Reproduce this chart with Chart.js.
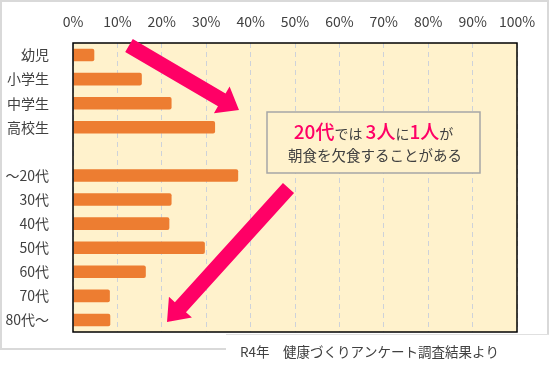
<!DOCTYPE html>
<html>
<head>
<meta charset="utf-8">
<script src="https://cdn.jsdelivr.net/npm/chart.js@4"></script>
<style>
  html, body { margin: 0; padding: 0; background: #ffffff; }
  canvas { display: block; }
</style>
</head>
<body>
<canvas id="breakfast" width="549" height="372"></canvas>
<script>
// Categories (blank row separates children from adults)
const categories = ['幼児', '小学生', '中学生', '高校生', '', '～20代', '30代', '40代', '50代', '60代', '70代', '80代～'];
// Share who skip breakfast (%)
const skipRates = [4.8, 15.5, 22.2, 32.0, null, 37.2, 22.2, 21.7, 29.7, 16.4, 8.3, 8.4];
const xTickValues = [0, 10, 20, 30, 40, 50, 60, 70, 80, 90, 100];

const FONT = "'Noto Sans CJK JP', 'Noto Sans', sans-serif";
const PINK = '#FF0066';
const TEXT = '#404040';

// Draw a thick block arrow from tail centre to tip
function drawArrow(ctx, x1, y1, x2, y2, shaft, headW, headL) {
    const dx = x2 - x1, dy = y2 - y1;
    const len = Math.sqrt(dx * dx + dy * dy);
    const ux = dx / len, uy = dy / len;
    const px = -uy, py = ux;
    const bx = x2 - ux * headL, by = y2 - uy * headL;
    ctx.beginPath();
    ctx.moveTo(x1 + px * shaft / 2, y1 + py * shaft / 2);
    ctx.lineTo(bx + px * shaft / 2, by + py * shaft / 2);
    ctx.lineTo(bx + px * headW / 2, by + py * headW / 2);
    ctx.lineTo(x2, y2);
    ctx.lineTo(bx - px * headW / 2, by - py * headW / 2);
    ctx.lineTo(bx - px * shaft / 2, by - py * shaft / 2);
    ctx.lineTo(x1 - px * shaft / 2, y1 - py * shaft / 2);
    ctx.closePath();
    ctx.fillStyle = PINK;
    ctx.fill();
}

const decorations = {
    id: 'decorations',
    beforeDraw(chart) {
        const ctx = chart.ctx;
        const a = chart.chartArea;
        ctx.save();
        ctx.fillStyle = '#ffffff';
        ctx.fillRect(0, 0, chart.width, chart.height);
        // outer frame
        ctx.strokeStyle = '#D9D9D9';
        ctx.lineWidth = 2;
        ctx.strokeRect(1, 1, chart.width - 2, 348);
        // plot background
        ctx.fillStyle = '#FFF2CC';
        ctx.fillRect(a.left, a.top, a.right - a.left, a.bottom - a.top);
        ctx.restore();
    },
    afterDatasetsDraw(chart) {
        const ctx = chart.ctx;
        const a = chart.chartArea;
        ctx.save();
        // plot border
        ctx.strokeStyle = '#000000';
        ctx.lineWidth = 1.5;
        ctx.strokeRect(a.left, a.top, a.right - a.left, a.bottom - a.top);

        // caption box covering lower right of frame
        ctx.fillStyle = '#ffffff';
        ctx.fillRect(226, 334, chart.width - 226, chart.height - 334);
        ctx.strokeStyle = '#E0E0E0';
        ctx.lineWidth = 1;
        ctx.beginPath();
        ctx.moveTo(226, 334.5);
        ctx.lineTo(chart.width, 334.5);
        ctx.stroke();
        ctx.fillStyle = TEXT;
        ctx.font = '13.5px ' + FONT;
        ctx.textBaseline = 'middle';
        ctx.textAlign = 'left';
        ctx.fillText('R4年　健康づくりアンケート調査結果より', 240, 352);

        // arrows
        drawArrow(ctx, 129, 45.5, 239, 110, 15, 31, 20);
        drawArrow(ctx, 288.5, 188, 167, 322, 15, 31, 20);

        // annotation box
        ctx.fillStyle = '#FFF2CC';
        ctx.fillRect(267, 112, 213, 61);
        ctx.strokeStyle = '#A6A6A6';
        ctx.lineWidth = 1.5;
        ctx.strokeRect(267, 112, 213, 61);

        const parts = [
            ['20代', PINK, '500 19px '],
            ['では ', TEXT, '14px '],
            ['3人', PINK, '500 19px '],
            ['に', TEXT, '14px '],
            ['1人', PINK, '500 19px '],
            ['が', TEXT, '14px ']
        ];
        let total = 0;
        parts.forEach(p => { ctx.font = p[2] + FONT; total += ctx.measureText(p[0]).width; });
        let x = 373.5 - total / 2;
        ctx.textBaseline = 'alphabetic';
        parts.forEach(p => {
            ctx.font = p[2] + FONT;
            ctx.fillStyle = p[1];
            ctx.fillText(p[0], x, 139);
            x += ctx.measureText(p[0]).width;
        });
        ctx.font = '14.5px ' + FONT;
        ctx.fillStyle = TEXT;
        ctx.textAlign = 'center';
        ctx.textBaseline = 'middle';
        ctx.fillText('朝食を欠食することがある', 375, 155);
        ctx.restore();
    }
};

new Chart(document.getElementById('breakfast'), {
    type: 'bar',
    data: {
        labels: categories,
        datasets: [{
            data: skipRates,
            backgroundColor: '#ED7D31',
            borderRadius: 2,
            categoryPercentage: 1,
            barPercentage: 0.52
        }]
    },
    options: {
        indexAxis: 'y',
        responsive: false,
        animation: false,
        layout: { padding: { left: 0, top: 0, right: 32, bottom: 40 } },
        plugins: {
            legend: { display: false },
            tooltip: { enabled: false }
        },
        scales: {
            x: {
                position: 'top',
                min: 0,
                max: 100,
                afterFit: function (scale) { scale.height = 43; },
                afterBuildTicks: function (scale) {
                    scale.ticks = xTickValues.map(v => ({ value: v }));
                },
                ticks: {
                    callback: v => v + '%',
                    color: TEXT,
                    font: { family: FONT, size: 14 },
                    padding: 13,
                    maxRotation: 0
                },
                grid: { color: '#CDD2DA', lineWidth: 1, tickLength: 0 },
                border: { display: false, dash: [5, 4] }
            },
            y: {
                afterFit: function (scale) { scale.width = 73; },
                ticks: {
                    color: TEXT,
                    font: { family: FONT, size: 14 },
                    padding: 16,
                    autoSkip: false
                },
                grid: { display: false },
                border: { display: false }
            }
        }
    },
    plugins: [decorations]
});
</script>
</body>
</html>
